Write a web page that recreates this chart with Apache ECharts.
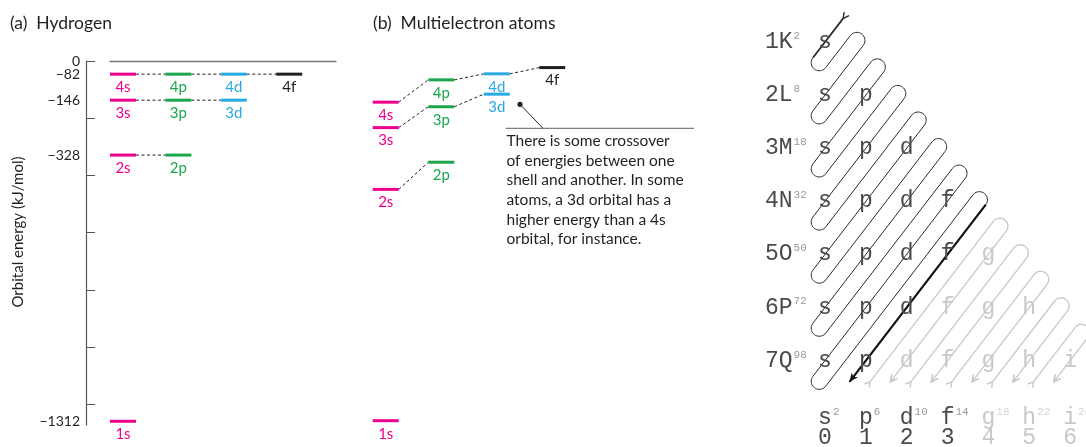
<!DOCTYPE html>
<html><head><meta charset="utf-8">
<script src="https://cdn.jsdelivr.net/npm/echarts@6/dist/echarts.min.js"></script>
<style>html,body{margin:0;padding:0;background:#fff}#c{width:1086px;height:447px}</style>
</head><body><div id="c"></div>
<script>
// ---------------- data ----------------
const orbitalNames = ['1s','2s','2p','3s','3p','3d','4s','4p','4d','4f'];
const orbitalShell = [1,2,2,3,3,3,4,4,4,4];
const orbitalSub   = [0,0,1,0,1,2,0,1,2,3];
// (a) hydrogen: level of each orbital as drawn on the energy axis
const hydrogenLevel = [-1260,-329,-329,-137,-137,-137,-46,-46,-46,-46];
const hydrogenShellLevel = [-1260,-329,-137,-46];
const hydrogenShellEnergy = ['\u22121312','\u2212328','\u2212146','\u221282'];
const energyTicks = [0,-200,-400,-600,-800,-1000,-1200];
// (b) multielectron atoms: level of each orbital as drawn
const multiLevel = [-1258,-449,-354,-233,-160,-116,-144,-66,-45,-23];
// (c) filling-order diagram
const shellRows = ['1K','2L','3M','4N','5O','6P','7Q'];
const shellCapacity = [2,8,18,32,50,72,98];
const subshellLetters = ['s','p','d','f','g','h','i'];
const subshellCapacity = [2,6,10,14,18,22,26];
const subshellNumber = [0,1,2,3,4,5,6];
const occupiedCount = [1,2,3,4,4,3,2];   // subshells per shell shown in black
const occupiedTypes = 4;                 // s p d f shown in black on the bottom row
const blackDiagonals = 8;                // n+l diagonals of the black path
const lastDiagonal = 13;
const annotationLines = ['There is some crossover','of energies between one','shell and another. In some','atoms, a 3d orbital has a','higher energy than a 4s','orbital, for instance.'];

// ---------------- style ----------------
const FONT = 'Lato';
const MONO = 'Liberation Mono';
const INK = '#231f20';
const subColors = ['#ec008c','#1ca64c','#27aae1','#231f20'];
const GEO = {tailDiff:-0.12, topDiff:0.05, bottomL:-0.26, endN:7.40, letterRowN:8.08, digitRowN:8.46, rowLabelL:-1.47};

function levelSeries(idx, levels){
  return {
    type:'custom', xAxisIndex:idx, yAxisIndex:idx, clip:false,
    data: orbitalNames.map((nm,i)=>[orbitalSub[i], levels[i]]),
    renderItem(params, api){
      const i = params.dataIndex;
      const p = api.coord([api.value(0), api.value(1)]);
      const col = subColors[orbitalSub[i]];
      const half = 13;
      const ch = [
        {type:'line', shape:{x1:p[0]-half,y1:p[1],x2:p[0]+half,y2:p[1]}, style:{stroke:col,lineWidth:3}},
        {type:'text', x:p[0], y:p[1]+13, style:{text:orbitalNames[i], fill:col, fontSize:15, fontFamily:FONT, align:'center', verticalAlign:'middle'}}
      ];
      if (i+1 < orbitalNames.length && orbitalShell[i+1] === orbitalShell[i]) {
        const q = api.coord([orbitalSub[i+1], levels[i+1]]);
        ch.unshift({type:'line', shape:{x1:p[0]+half,y1:p[1],x2:q[0]-half,y2:q[1]}, style:{stroke:INK,lineWidth:1,lineDash:[3,2.5]}});
      }
      return {type:'group', children:ch};
    }
  };
}

function diagramItem(params, api){
  const at=(l,n)=>api.coord([l,n]);
  const sub=(a,b)=>[a[0]-b[0],a[1]-b[1]], add=(a,b)=>[a[0]+b[0],a[1]+b[1]], mul=(a,s)=>[a[0]*s,a[1]*s];
  const o=at(0,1);
  const D=sub(sub(at(0,2),o), sub(at(1,1),o));
  const len=Math.hypot(D[0],D[1]);
  const d=[D[0]/len,D[1]/len], e=[d[1],-d[0]];
  const hv=sub(at(0,1.5),o); const r=(hv[0]*e[0]+hv[1]*e[1])/2;
  const onDiff=(m,a)=>at((m+a)/2,(m-a)/2), onL=(m,L)=>at(L,m-L), onN=(m,N)=>at(m-N,N);
  const arc=(c,u,v)=>{const pts=[];for(let j=0;j<=20;j++){const t=Math.PI*j/20;pts.push(add(c,add(mul(u,r*Math.cos(t)),mul(v,r*Math.sin(t)))));}return pts;};
  const negE=mul(e,-1), negD=mul(d,-1);
  const topArc=k=>arc(add(onDiff(k+0.75,GEO.topDiff),mul(d,r)),negE,negD);
  const botArc=k=>arc(sub(onL(k+0.25,GEO.bottomL),mul(d,r)),negE,d);
  const BLACK='#2a2a2a', GRAY='#c8c8c8';
  const ch=[];
  // black path
  const S=onDiff(1,GEO.tailDiff);
  let thin=[];
  for(let k=1;k<blackDiagonals;k++){ thin=thin.concat(botArc(k), topArc(k)); }
  ch.push({type:'polyline', shape:{points:thin}, style:{stroke:BLACK,lineWidth:1,fill:null}});
  ch.push({type:'polyline', shape:{points:[S, thin[0]]}, style:{stroke:BLACK,lineWidth:1.7,fill:null}});
  const E=onN(blackDiagonals,GEO.endN);
  ch.push({type:'polyline', shape:{points:[thin[thin.length-1], E]}, style:{stroke:'#111',lineWidth:2.2,fill:null}});
  ch.push({type:'polygon', shape:{points:[add(sub(E,mul(d,9)),mul(e,4)),E,sub(sub(E,mul(d,9)),mul(e,4)),sub(E,mul(d,6))]}, style:{fill:'#111'}});
  ch.push({type:'polyline', shape:{points:[add(sub(S,mul(d,6)),mul(e,3)),S,sub(sub(S,mul(d,6)),mul(e,3))]}, style:{stroke:BLACK,lineWidth:1.4,fill:null}});
  // gray continuation
  for(let k=blackDiagonals;k<lastDiagonal;k++){
    const T=onN(k+0.5,GEO.endN), F=onN(k+1,GEO.endN);
    ch.push({type:'polyline', shape:{points:[T].concat(topArc(k),[F])}, style:{stroke:GRAY,lineWidth:1.3,fill:null}});
    ch.push({type:'polyline', shape:{points:[add(sub(F,mul(d,7)),mul(e,3.5)),F,sub(sub(F,mul(d,7)),mul(e,3.5))]}, style:{stroke:GRAY,lineWidth:1.6,fill:null}});
    ch.push({type:'polyline', shape:{points:[add(add(T,mul(d,5)),mul(e,3)),T,sub(add(T,mul(d,5)),mul(e,3))]}, style:{stroke:GRAY,lineWidth:1.4,fill:null}});
  }
  // letters
  const FS=23, TXT='#4a4a4a', LT='#c8c8c8';
  for(let n=1;n<=shellRows.length;n++){
    const pr=at(GEO.rowLabelL,n);
    ch.push({type:'text', x:pr[0], y:pr[1], style:{text:'{m|'+shellRows[n-1]+'}{s|'+shellCapacity[n-1]+'}', align:'left', verticalAlign:'middle',
      rich:{m:{fontSize:FS,fontFamily:MONO,fill:TXT,verticalAlign:'middle'}, s:{fontSize:11,fontFamily:MONO,fill:'#9a9a9a',verticalAlign:'top',padding:[0,0,0,1]}}}});
    for(let l=0;l<n;l++){
      const p=at(l,n);
      ch.push({type:'text', x:p[0], y:p[1], style:{text:subshellLetters[l], fill: l<occupiedCount[n-1]?TXT:LT, fontSize:FS, fontFamily:MONO, align:'center', verticalAlign:'middle'}});
    }
  }
  for(let l=0;l<subshellLetters.length;l++){
    const dark = l<occupiedTypes;
    const p=at(l,GEO.letterRowN);
    ch.push({type:'text', x:p[0]-FS*0.3, y:p[1], style:{text:'{m|'+subshellLetters[l]+'}{s|'+subshellCapacity[l]+'}', align:'left', verticalAlign:'middle',
      rich:{m:{fontSize:FS,fontFamily:MONO,fill:dark?TXT:LT,verticalAlign:'middle'}, s:{fontSize:11,fontFamily:MONO,fill:dark?'#9a9a9a':'#d4d4d4',verticalAlign:'top',padding:[0,0,0,1]}}}});
    const q=at(l,GEO.digitRowN);
    ch.push({type:'text', x:q[0], y:q[1], style:{text:String(subshellNumber[l]), fill:dark?TXT:LT, fontSize:FS, fontFamily:MONO, align:'center', verticalAlign:'middle'}});
  }
  return {type:'group', children:ch};
}

const chart = echarts.init(document.getElementById('c'), null, {renderer:'canvas'});
const hidden = {show:false};
chart.setOption({
  animation:false,
  backgroundColor:'#fff',
  title:[
    {text:'(a)  Hydrogen', left:10, top:14, padding:0, textStyle:{fontSize:17.5, fontWeight:'normal', color:INK, fontFamily:FONT}},
    {text:'(b)  Multielectron atoms', left:373, top:14, padding:0, textStyle:{fontSize:17.5, fontWeight:'normal', color:INK, fontFamily:FONT}}
  ],
  grid:[
    {left:110, top:61, width:226, height:364},
    {left:358, top:61, width:222, height:364},
    {left:743.3, top:15.45, width:339.06, height:430.11}
  ],
  xAxis:[
    {gridIndex:0, type:'value', min:-0.23466, max:3.84476, position:'top',
     axisLine:{show:true,onZero:false,lineStyle:{color:'#7a7a7a',width:1.3}}, axisTick:hidden, axisLabel:hidden, splitLine:hidden},
    {gridIndex:1, type:'value', min:-0.5, max:3.5, show:false, splitLine:hidden},
    {gridIndex:2, type:'value', min:-2, max:6.3, show:false, splitLine:hidden}
  ],
  yAxis:[
    {gridIndex:0, type:'value', min:-1273, max:0, offset:24,
     axisLine:{show:true,onZero:false,lineStyle:{color:'#555',width:1.2}},
     axisTick:{show:true,inside:true,length:9,customValues:energyTicks,lineStyle:{color:'#555',width:1}},
     axisLabel:{customValues:[0].concat(hydrogenShellLevel), formatter:v=>{const i=hydrogenShellLevel.indexOf(v);return i<0?'0':hydrogenShellEnergy[i];},
       fontSize:14, color:INK, fontFamily:FONT, margin:6},
     splitLine:hidden},
    {gridIndex:1, type:'value', min:-1273, max:0, show:false, splitLine:hidden},
    {gridIndex:2, type:'value', min:0.5, max:8.6, inverse:true, show:false, splitLine:hidden}
  ],
  graphic:[
    {type:'text', x:18, y:232, rotation:Math.PI/2, style:{text:'Orbital energy (kJ/mol)', fontSize:15, fontFamily:FONT, fill:INK, align:'center', verticalAlign:'middle'}},
    {type:'line', shape:{x1:505.7,y1:128.3,x2:694,y2:128.3}, style:{stroke:'#808080',lineWidth:1.3}},
    {type:'line', shape:{x1:520,y1:104.3,x2:543,y2:128.3}, style:{stroke:INK,lineWidth:1}},
    {type:'circle', shape:{cx:520,cy:104.3,r:2.6}, style:{fill:INK}},
    {type:'text', x:506.5, y:131, style:{text:annotationLines.join('\n'), fontSize:15.5, lineHeight:19.7, fontFamily:FONT, fill:INK, align:'left', verticalAlign:'top'}}
  ],
  series:[
    levelSeries(0, hydrogenLevel),
    levelSeries(1, multiLevel),
    {type:'custom', xAxisIndex:2, yAxisIndex:2, clip:false, data:[[0,1]], renderItem:diagramItem}
  ]
});
</script></body></html>
